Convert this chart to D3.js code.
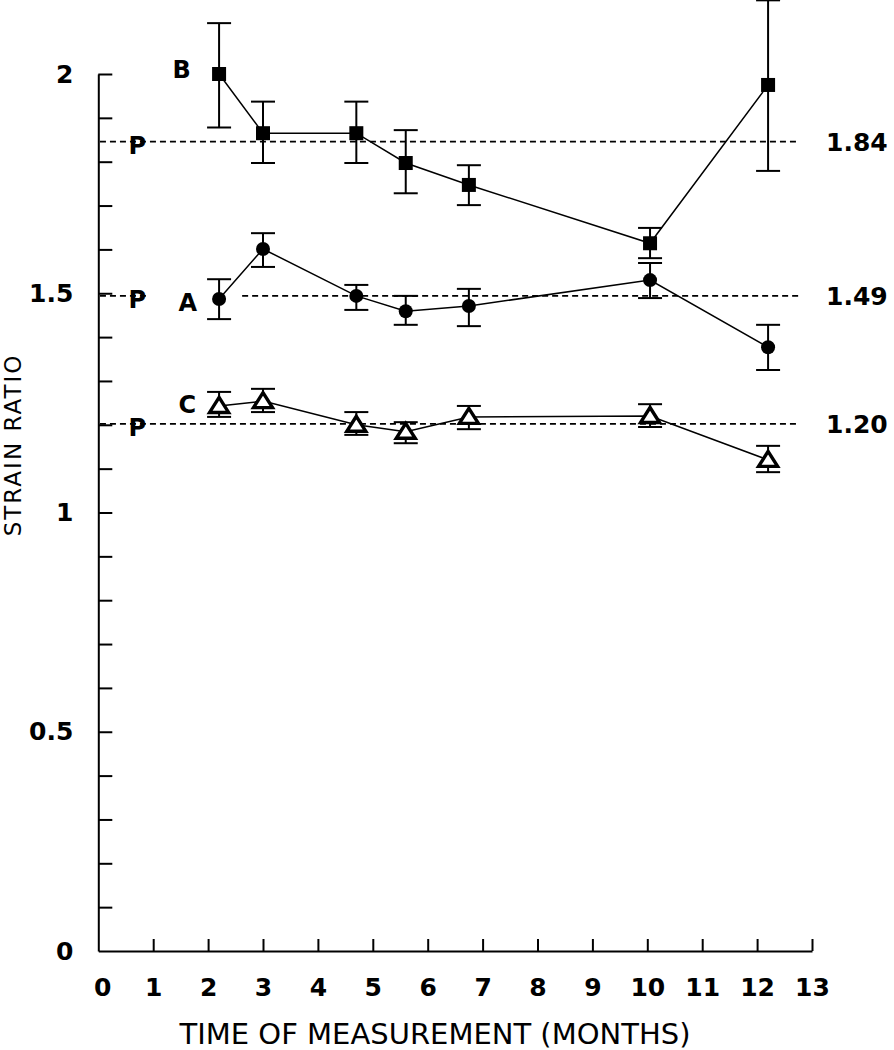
<!DOCTYPE html>
<html>
<head>
<meta charset="utf-8">
<script src="https://cdn.jsdelivr.net/npm/d3@7/dist/d3.min.js"></script>
<style>
  html, body { margin: 0; padding: 0; background: #fff; }
  svg { display: block; }
</style>
</head>
<body>
<svg id="chart" width="894" height="1050"></svg>
<script>
// ---- data ----
const months = [2.2, 3.0, 4.7, 5.6, 6.75, 10.05, 12.2];

const seriesB   = [2.000, 1.865, 1.865, 1.797, 1.747, 1.614, 1.975];
const seriesBHi = [2.116, 1.937, 1.937, 1.872, 1.792, 1.649, 2.168];
const seriesBLo = [1.878, 1.797, 1.797, 1.728, 1.701, 1.580, 1.779];

const seriesA   = [1.487, 1.601, 1.494, 1.459, 1.471, 1.530, 1.377];
const seriesAHi = [1.532, 1.637, 1.519, 1.494, 1.510, 1.569, 1.428];
const seriesALo = [1.441, 1.560, 1.462, 1.428, 1.425, 1.489, 1.325];

const seriesC   = [1.243, 1.254, 1.200, 1.184, 1.218, 1.220, 1.120];
const seriesCHi = [1.275, 1.282, 1.229, 1.206, 1.243, 1.247, 1.152];
const seriesCLo = [1.218, 1.229, 1.177, 1.158, 1.190, 1.195, 1.092];

const refValues = [1.846, 1.494, 1.202];
const refLabels = ["1.84", "1.49", "1.20"];

const xTicks = d3.range(0, 14);
const yTicks = d3.range(0, 21).map(d => d / 10);
const yLabels = [0, 0.5, 1, 1.5, 2];

const xTitle = "TIME OF MEASUREMENT (MONTHS)";
const yTitle = "STRAIN RATIO";

// ---- drawing ----
const svg = d3.select("#chart");
const x = d3.scaleLinear().domain([0, 13]).range([98.3, 812]);
const y = d3.scaleLinear().domain([0, 2]).range([951, 74]);

const tickFont = "'DejaVu Sans', sans-serif";

// reference dashed lines
const refSegments = [
  [[0.03, 12.78]],
  [[0.03, 0.94], [2.62, 12.78]],
  [[0.03, 12.78]]
];
refValues.forEach((v, i) => {
  refSegments[i].forEach(seg => {
    svg.append("line")
      .attr("x1", x(seg[0])).attr("x2", x(seg[1]))
      .attr("y1", y(v)).attr("y2", y(v))
      .attr("stroke", "#000").attr("stroke-width", 1.8)
      .attr("stroke-dasharray", "6,4");
  });
  svg.append("text")
    .attr("x", x(0.71)).attr("y", y(v) + 4)
    .attr("text-anchor", "middle").attr("dominant-baseline", "central")
    .attr("font-family", tickFont).attr("font-weight", "bold").attr("font-size", 24)
    .text("P");
  svg.append("text")
    .attr("x", 826).attr("y", y(v) + 1)
    .attr("dominant-baseline", "central")
    .attr("font-family", tickFont).attr("font-weight", "bold").attr("font-size", 25)
    .text(refLabels[i]);
});

// axes
const yAxis = d3.axisLeft(y)
  .tickValues(yTicks)
  .tickSize(-14)
  .tickSizeOuter(0)
  .tickPadding(25)
  .tickFormat(d => yLabels.some(v => Math.abs(v - d) < 1e-9) ? d3.format("")(+d.toFixed(1)) : "");
const gy = svg.append("g").attr("transform", `translate(${x(0)},0)`).call(yAxis);

const xAxis = d3.axisBottom(x)
  .tickValues(xTicks)
  .tickSize(-12)
  .tickSizeOuter(0)
  .tickPadding(27)
  .tickFormat(d3.format("d"));
const gx = svg.append("g").attr("transform", `translate(0,${y(0)})`).call(xAxis);

[gx, gy].forEach(g => {
  g.select(".domain").attr("stroke", "#000").attr("stroke-width", 2);
  g.selectAll(".tick line").attr("stroke", "#000").attr("stroke-width", 2);
  g.selectAll(".tick text")
    .attr("fill", "#000")
    .attr("font-family", tickFont).attr("font-weight", "bold").attr("font-size", 25);
});
gx.selectAll(".tick").filter(d => d === 0).select("line").remove();
gx.selectAll(".tick").filter(d => d === 0).select("text").attr("dx", 4);
gy.selectAll(".tick").filter(d => d === 0).select("line").remove();

// titles
svg.append("text")
  .attr("x", 435).attr("y", 1044)
  .attr("text-anchor", "middle")
  .attr("font-family", "'DejaVu Sans', sans-serif")
  .attr("font-size", 29)
  .text(xTitle);
svg.append("text")
  .attr("transform", `translate(21,${445}) rotate(-90)`)
  .attr("text-anchor", "middle")
  .attr("font-family", "'DejaVu Sans', sans-serif")
  .attr("font-size", 23)
  .attr("letter-spacing", 2)
  .text(yTitle);

// series
const series = [
  { name: "B", vals: seriesB, hi: seriesBHi, lo: seriesBLo, marker: "square", lx: 1.52, ly: 2.009 },
  { name: "A", vals: seriesA, hi: seriesAHi, lo: seriesALo, marker: "circle", lx: 1.63, ly: 1.478 },
  { name: "C", vals: seriesC, hi: seriesCHi, lo: seriesCLo, marker: "triangle", lx: 1.62, ly: 1.245 }
];

const line = d3.line().x(d => x(d[0])).y(d => y(d[1]));

series.forEach(s => {
  const pts = months.map((m, i) => [m, s.vals[i], s.hi[i], s.lo[i]]);
  const g = svg.append("g");

  g.append("path")
    .attr("d", line(pts))
    .attr("fill", "none").attr("stroke", "#000").attr("stroke-width", 1.5);

  // error bars
  pts.forEach(p => {
    const cx = x(p[0]);
    g.append("line").attr("x1", cx).attr("x2", cx)
      .attr("y1", y(p[2])).attr("y2", y(p[3]))
      .attr("stroke", "#000").attr("stroke-width", 2);
    [p[2], p[3]].forEach(v => {
      g.append("line").attr("x1", cx - 12).attr("x2", cx + 12)
        .attr("y1", y(v)).attr("y2", y(v))
        .attr("stroke", "#000").attr("stroke-width", 2);
    });
  });

  // markers
  pts.forEach(p => {
    const cx = x(p[0]), cy = y(p[1]);
    if (s.marker === "square") {
      g.append("rect").attr("x", cx - 7).attr("y", cy - 7)
        .attr("width", 14).attr("height", 14).attr("fill", "#000");
    } else if (s.marker === "circle") {
      g.append("circle").attr("cx", cx).attr("cy", cy).attr("r", 7).attr("fill", "#000");
    } else {
      g.append("path")
        .attr("d", `M${cx},${cy - 8.5} L${cx + 9.5},${cy + 6.5} L${cx - 9.5},${cy + 6.5} Z`)
        .attr("fill", "#fff").attr("stroke", "#000").attr("stroke-width", 3.4)
        .attr("stroke-linejoin", "miter");
    }
  });

  svg.append("text")
    .attr("x", x(s.lx)).attr("y", y(s.ly))
    .attr("text-anchor", "middle").attr("dominant-baseline", "central")
    .attr("font-family", tickFont).attr("font-weight", "bold").attr("font-size", 24)
    .text(s.name);
});
</script>
</body>
</html>
